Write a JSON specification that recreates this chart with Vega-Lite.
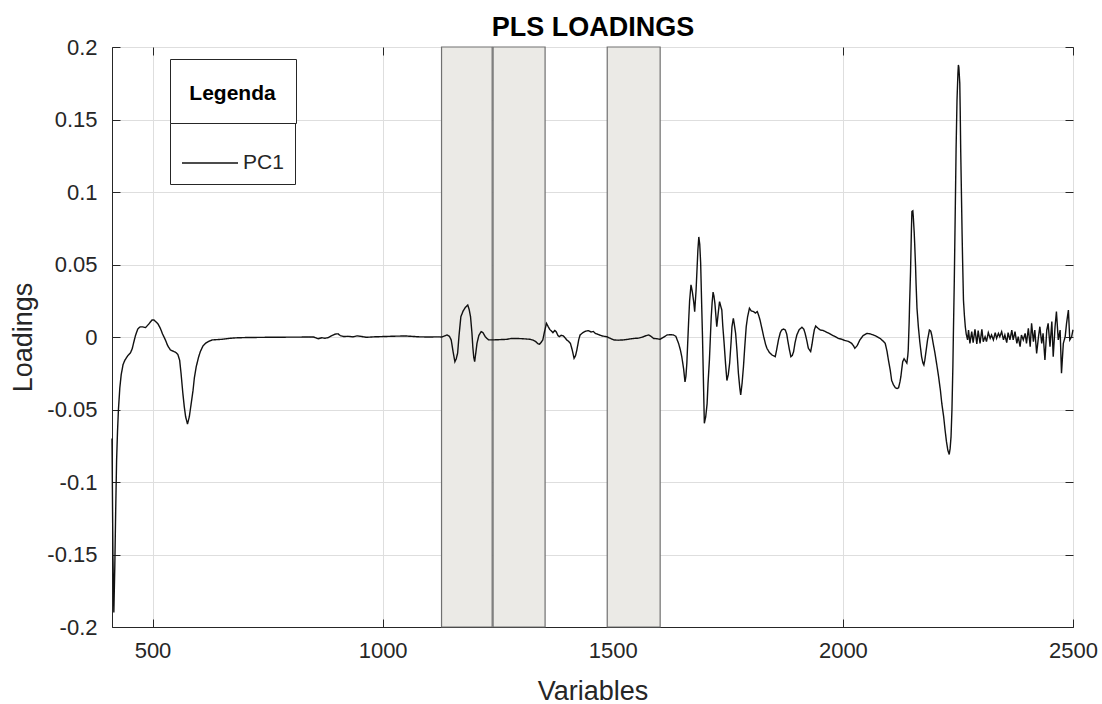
{
  "$schema": "https://vega.github.io/schema/vega-lite/v6.json",
  "width": 961,
  "height": 580,
  "autosize": {"type": "none"},
  "padding": {"left": 112, "top": 47, "right": 29, "bottom": 77},
  "background": "white",
  "config": {
    "view": {"stroke": "#262626", "strokeWidth": 1},
    "axis": {"labelFont": "Liberation Sans", "titleFont": "Liberation Sans", "labelColor": "#262626", "titleColor": "#262626", "tickColor": "#262626", "domainColor": "#262626", "gridColor": "#dedede", "titleFontWeight": "normal"}
  },
  "datasets": {
    "regions": [
      {"start": 1128, "end": 1238, "lo": -0.2, "hi": 0.2},
      {"start": 1240, "end": 1353, "lo": -0.2, "hi": 0.2},
      {"start": 1488, "end": 1603, "lo": -0.2, "hi": 0.2}
    ],
    "loadings": [
      {"x":412,"y":-0.07},{"x":414,"y":-0.15},{"x":416,"y":-0.19},{"x":418,"y":-0.16},{"x":420,"y":-0.12},{"x":422,"y":-0.085},{"x":424,"y":-0.065},{"x":426,"y":-0.05},{"x":429,"y":-0.035},{"x":432,"y":-0.026},{"x":436,"y":-0.019},{"x":440,"y":-0.016},{"x":446,"y":-0.013},{"x":452,"y":-0.011},{"x":456,"y":-0.008},{"x":459,"y":-0.004},{"x":463,"y":0.001},{"x":468,"y":0.0055},{"x":473,"y":0.007},{"x":478,"y":0.007},{"x":485,"y":0.0065},{"x":492,"y":0.009},{"x":499,"y":0.0117},{"x":503,"y":0.0118},{"x":507,"y":0.0106},{"x":512,"y":0.009},{"x":517,"y":0.006},{"x":522,"y":0.002},{"x":528,"y":-0.002},{"x":533,"y":-0.006},{"x":539,"y":-0.009},{"x":545,"y":-0.0098},{"x":550,"y":-0.0105},{"x":555,"y":-0.012},{"x":559,"y":-0.016},{"x":562,"y":-0.025},{"x":566,"y":-0.039},{"x":569,"y":-0.048},{"x":572,"y":-0.055},{"x":576,"y":-0.06},{"x":580,"y":-0.055},{"x":584,"y":-0.046},{"x":588,"y":-0.037},{"x":591,"y":-0.028},{"x":595,"y":-0.0205},{"x":600,"y":-0.014},{"x":604,"y":-0.01},{"x":610,"y":-0.006},{"x":615,"y":-0.0044},{"x":622,"y":-0.003},{"x":630,"y":-0.002},{"x":640,"y":-0.0018},{"x":651,"y":-0.0016},{"x":665,"y":-0.001},{"x":680,"y":-0.0006},{"x":700,"y":-0.0004},{"x":750,"y":-0.0002},{"x":800,"y":-0.0001},{"x":850,"y":0},{"x":860,"y":-0.0012},{"x":868,"y":-0.0005},{"x":875,"y":-0.0009},{"x":882,"y":-0.0004},{"x":890,"y":0.001},{"x":897,"y":0.002},{"x":903,"y":0.0022},{"x":908,"y":0.001},{"x":915,"y":0.0003},{"x":925,"y":0.0005},{"x":935,"y":0.0001},{"x":945,"y":0.0008},{"x":955,"y":0.0003},{"x":965,"y":-0.0002},{"x":980,"y":0.0001},{"x":1000,"y":0.0003},{"x":1030,"y":0.0006},{"x":1050,"y":0.0007},{"x":1065,"y":0.0004},{"x":1080,"y":0.0001},{"x":1100,"y":0},{"x":1120,"y":0.0001},{"x":1129,"y":0},{"x":1135,"y":0.0008},{"x":1140,"y":0.0014},{"x":1145,"y":0.0005},{"x":1149,"y":-0.002},{"x":1153,"y":-0.01},{"x":1157,"y":-0.017},{"x":1160,"y":-0.015},{"x":1163,"y":-0.011},{"x":1166,"y":0.001},{"x":1170,"y":0.014},{"x":1175,"y":0.018},{"x":1180,"y":0.0205},{"x":1185,"y":0.022},{"x":1188,"y":0.019},{"x":1191,"y":0.014},{"x":1194,"y":0.003},{"x":1196,"y":-0.007},{"x":1198,"y":-0.014},{"x":1200,"y":-0.017},{"x":1202,"y":-0.012},{"x":1205,"y":-0.0044},{"x":1209,"y":0.001},{"x":1214,"y":0.0037},{"x":1218,"y":0.003},{"x":1223,"y":0.0002},{"x":1230,"y":-0.002},{"x":1241,"y":-0.002},{"x":1255,"y":-0.0018},{"x":1270,"y":-0.0016},{"x":1280,"y":-0.001},{"x":1292,"y":-0.001},{"x":1305,"y":-0.0012},{"x":1321,"y":-0.0016},{"x":1327,"y":-0.0022},{"x":1332,"y":-0.003},{"x":1337,"y":-0.0045},{"x":1341,"y":-0.005},{"x":1345,"y":-0.0035},{"x":1348,"y":-0.002},{"x":1352,"y":0.004},{"x":1356,"y":0.0094},{"x":1360,"y":0.007},{"x":1363,"y":0.0053},{"x":1367,"y":0.004},{"x":1370,"y":0.003},{"x":1374,"y":0.0045},{"x":1377,"y":0.0037},{"x":1381,"y":0.001},{"x":1384,"y":0.0002},{"x":1388,"y":0.0012},{"x":1393,"y":0.0007},{"x":1397,"y":-0.0008},{"x":1400,"y":-0.002},{"x":1404,"y":-0.003},{"x":1408,"y":-0.0044},{"x":1412,"y":-0.009},{"x":1416,"y":-0.0147},{"x":1419,"y":-0.013},{"x":1422,"y":-0.009},{"x":1426,"y":-0.002},{"x":1429,"y":0.0014},{"x":1435,"y":0.003},{"x":1441,"y":0.004},{"x":1447,"y":0.0044},{"x":1453,"y":0.0035},{"x":1458,"y":0.0038},{"x":1462,"y":0.0025},{"x":1468,"y":0.0018},{"x":1477,"y":0.0007},{"x":1487,"y":0.0002},{"x":1495,"y":-0.001},{"x":1502,"y":-0.002},{"x":1512,"y":-0.0022},{"x":1524,"y":-0.002},{"x":1535,"y":-0.0015},{"x":1545,"y":-0.001},{"x":1555,"y":-0.0008},{"x":1565,"y":0},{"x":1573,"y":0.001},{"x":1578,"y":0.0014},{"x":1583,"y":0.0005},{"x":1589,"y":-0.001},{"x":1596,"y":-0.0012},{"x":1603,"y":-0.0016},{"x":1610,"y":-0.0002},{"x":1618,"y":0.0014},{"x":1625,"y":0.0016},{"x":1632,"y":0.0014},{"x":1637,"y":0.0005},{"x":1643,"y":-0.0044},{"x":1647,"y":-0.009},{"x":1650,"y":-0.0136},{"x":1654,"y":-0.022},{"x":1657,"y":-0.031},{"x":1659,"y":-0.027},{"x":1661,"y":-0.018},{"x":1663,"y":-0.003},{"x":1665,"y":0.0117},{"x":1667,"y":0.025},{"x":1670,"y":0.036},{"x":1673,"y":0.031},{"x":1676,"y":0.024},{"x":1678,"y":0.0175},{"x":1681,"y":0.032},{"x":1683,"y":0.046},{"x":1685,"y":0.06},{"x":1687,"y":0.069},{"x":1689,"y":0.064},{"x":1691,"y":0.051},{"x":1693,"y":0.025},{"x":1695,"y":0.0002},{"x":1697,"y":-0.03},{"x":1699,"y":-0.0595},{"x":1702,"y":-0.055},{"x":1705,"y":-0.046},{"x":1707,"y":-0.032},{"x":1710,"y":-0.016},{"x":1712,"y":-0.001},{"x":1714,"y":0.014},{"x":1716,"y":0.024},{"x":1718,"y":0.031},{"x":1720,"y":0.028},{"x":1722,"y":0.023},{"x":1724,"y":0.015},{"x":1726,"y":0.0071},{"x":1729,"y":0.016},{"x":1732,"y":0.0244},{"x":1734,"y":0.022},{"x":1737,"y":0.0186},{"x":1739,"y":0.008},{"x":1742,"y":-0.0044},{"x":1745,"y":-0.018},{"x":1748,"y":-0.03},{"x":1751,"y":-0.026},{"x":1754,"y":-0.018},{"x":1757,"y":-0.004},{"x":1759,"y":0.0071},{"x":1762,"y":0.0129},{"x":1764,"y":0.009},{"x":1767,"y":0.0025},{"x":1770,"y":-0.01},{"x":1773,"y":-0.025},{"x":1776,"y":-0.035},{"x":1778,"y":-0.04},{"x":1781,"y":-0.032},{"x":1784,"y":-0.0205},{"x":1787,"y":-0.006},{"x":1790,"y":0.0071},{"x":1793,"y":0.014},{"x":1797,"y":0.0198},{"x":1801,"y":0.018},{"x":1806,"y":0.0175},{"x":1810,"y":0.0165},{"x":1814,"y":0.0175},{"x":1817,"y":0.015},{"x":1820,"y":0.0117},{"x":1824,"y":0.006},{"x":1828,"y":0.0002},{"x":1832,"y":-0.005},{"x":1835,"y":-0.0078},{"x":1840,"y":-0.0105},{"x":1846,"y":-0.0124},{"x":1853,"y":-0.0136},{"x":1856,"y":-0.009},{"x":1860,"y":-0.002},{"x":1864,"y":0.003},{"x":1867,"y":0.0048},{"x":1871,"y":0.0055},{"x":1875,"y":0.0048},{"x":1878,"y":0.002},{"x":1880,"y":-0.002},{"x":1884,"y":-0.009},{"x":1887,"y":-0.0136},{"x":1890,"y":-0.0128},{"x":1893,"y":-0.01},{"x":1896,"y":-0.004},{"x":1900,"y":0.0014},{"x":1905,"y":0.005},{"x":1911,"y":0.0067},{"x":1915,"y":0.0055},{"x":1918,"y":0.0025},{"x":1922,"y":-0.003},{"x":1925,"y":-0.0078},{"x":1930,"y":-0.01},{"x":1933,"y":-0.005},{"x":1936,"y":0.0014},{"x":1938,"y":0.005},{"x":1941,"y":0.0076},{"x":1946,"y":0.006},{"x":1951,"y":0.0048},{"x":1957,"y":0.0045},{"x":1962,"y":0.0037},{"x":1970,"y":0.0025},{"x":1976,"y":0.0014},{"x":1983,"y":0.0003},{"x":1990,"y":-0.001},{"x":1997,"y":-0.0015},{"x":2005,"y":-0.0025},{"x":2012,"y":-0.003},{"x":2019,"y":-0.0044},{"x":2023,"y":-0.006},{"x":2026,"y":-0.0078},{"x":2031,"y":-0.006},{"x":2034,"y":-0.004},{"x":2037,"y":-0.002},{"x":2044,"y":0.001},{"x":2052,"y":0.0025},{"x":2059,"y":0.0022},{"x":2066,"y":0.0014},{"x":2073,"y":0.0005},{"x":2081,"y":-0.001},{"x":2088,"y":-0.003},{"x":2092,"y":-0.0044},{"x":2096,"y":-0.01},{"x":2099,"y":-0.016},{"x":2103,"y":-0.023},{"x":2106,"y":-0.03},{"x":2110,"y":-0.033},{"x":2114,"y":-0.035},{"x":2118,"y":-0.0355},{"x":2121,"y":-0.035},{"x":2124,"y":-0.031},{"x":2126,"y":-0.0274},{"x":2128,"y":-0.022},{"x":2130,"y":-0.017},{"x":2133,"y":-0.015},{"x":2135,"y":-0.016},{"x":2137,"y":-0.017},{"x":2139,"y":-0.018},{"x":2141,"y":-0.013},{"x":2142,"y":-0.009},{"x":2144,"y":0.01},{"x":2145,"y":0.0232},{"x":2147,"y":0.045},{"x":2148,"y":0.06},{"x":2149,"y":0.075},{"x":2150,"y":0.0865},{"x":2152,"y":0.087},{"x":2153,"y":0.083},{"x":2155,"y":0.072},{"x":2156,"y":0.0646},{"x":2158,"y":0.048},{"x":2159,"y":0.037},{"x":2161,"y":0.02},{"x":2164,"y":0.0071},{"x":2167,"y":-0.003},{"x":2171,"y":-0.0136},{"x":2174,"y":-0.018},{"x":2176,"y":-0.0193},{"x":2178,"y":-0.016},{"x":2181,"y":-0.009},{"x":2184,"y":-0.002},{"x":2188,"y":0.0048},{"x":2191,"y":0.004},{"x":2193,"y":0.0014},{"x":2196,"y":-0.004},{"x":2200,"y":-0.011},{"x":2204,"y":-0.019},{"x":2208,"y":-0.0274},{"x":2212,"y":-0.037},{"x":2215,"y":-0.046},{"x":2219,"y":-0.055},{"x":2222,"y":-0.064},{"x":2225,"y":-0.072},{"x":2228,"y":-0.078},{"x":2231,"y":-0.081},{"x":2233,"y":-0.077},{"x":2235,"y":-0.0688},{"x":2237,"y":-0.05},{"x":2239,"y":-0.0205},{"x":2240,"y":0},{"x":2242,"y":0.037},{"x":2243,"y":0.06},{"x":2245,"y":0.106},{"x":2246,"y":0.13},{"x":2248,"y":0.1635},{"x":2250,"y":0.182},{"x":2251,"y":0.1876},{"x":2252,"y":0.186},{"x":2254,"y":0.175},{"x":2255,"y":0.155},{"x":2256,"y":0.129},{"x":2257,"y":0.11},{"x":2259,"y":0.0716},{"x":2260,"y":0.055},{"x":2262,"y":0.0255},{"x":2264,"y":0.015},{"x":2266,"y":0.0071},{"x":2268,"y":0.002},{"x":2271,"y":-0.002},
      {"x":2273,"y":0.0048},{"x":2276,"y":-0.0044},{"x":2280,"y":0.0037},{"x":2283,"y":-0.0039},{"x":2287,"y":0.0053},{"x":2291,"y":-0.0048},{"x":2294,"y":0.0044},{"x":2298,"y":-0.0044},{"x":2302,"y":0.0053},{"x":2305,"y":-0.0032},{"x":2309,"y":0.0002},{"x":2312,"y":-0.0032},{"x":2316,"y":0.003},{"x":2320,"y":-0.0009},{"x":2323,"y":0.0014},{"x":2327,"y":-0.002},{"x":2331,"y":0.003},{"x":2334,"y":-0.0009},{"x":2338,"y":0.0025},{"x":2341,"y":0.0002},{"x":2345,"y":0.0037},{"x":2349,"y":-0.002},{"x":2352,"y":0.0014},{"x":2356,"y":-0.0039},{"x":2359,"y":0.003},{"x":2363,"y":-0.002},{"x":2367,"y":0.0048},{"x":2370,"y":-0.002},{"x":2374,"y":0.0037},{"x":2378,"y":-0.0044},{"x":2381,"y":0.0002},{"x":2385,"y":-0.0067},{"x":2388,"y":0.0014},{"x":2392,"y":-0.002},{"x":2396,"y":0.0025},{"x":2399,"y":-0.0044},{"x":2403,"y":0.006},{"x":2407,"y":-0.0067},{"x":2410,"y":0.0094},{"x":2414,"y":-0.0032},{"x":2417,"y":0.0048},{"x":2421,"y":-0.0113},{"x":2425,"y":0.0002},{"x":2428,"y":0.0071},{"x":2432,"y":-0.0044},{"x":2435,"y":0.0025},{"x":2439,"y":-0.0159},{"x":2443,"y":0.0048},{"x":2446,"y":0.0094},{"x":2450,"y":-0.0067},{"x":2454,"y":0.0106},{"x":2457,"y":-0.0136},{"x":2461,"y":0.0071},{"x":2464,"y":0.0175},{"x":2468,"y":-0.002},{"x":2472,"y":0.0048},{"x":2475,"y":-0.025},{"x":2479,"y":-0.0044},{"x":2483,"y":0.0002},{"x":2486,"y":0.0094},{"x":2490,"y":0.0186},{"x":2493,"y":-0.002},{"x":2497,"y":0.0002},{"x":2500,"y":0.005}
    ]
  },
  "layer": [
    {
      "data": {"name": "regions"},
      "mark": {"type": "rect", "fill": "#ebeae6", "stroke": "#707070", "strokeWidth": 1.2},
      "encoding": {
        "x": {"field": "start", "type": "quantitative", "scale": {"domain": [412, 2500], "nice": false, "zero": false},
          "axis": {"orient": "bottom", "values": [500, 1000, 1500, 2000, 2500], "labelExpr": "toString(datum.value)", "title": "Variables", "titleFontSize": 27, "labelFontSize": 22, "tickSize": -8, "labelPadding": 21, "titlePadding": 17, "grid": true, "labelFlush": false}},
        "x2": {"field": "end"},
        "y": {"field": "lo", "type": "quantitative", "scale": {"domain": [-0.2, 0.2], "nice": false, "zero": false},
          "axis": {"orient": "left", "values": [-0.2, -0.15, -0.1, -0.05, 0, 0.05, 0.1, 0.15, 0.2], "labelExpr": "toString(datum.value)", "title": "Loadings", "titleFontSize": 27, "labelFontSize": 22, "tickSize": -8, "labelPadding": 23, "titlePadding": 9, "grid": true, "labelFlush": false}},
        "y2": {"field": "hi"}
      }
    },
    {
      "data": {"name": "loadings"},
      "mark": {"type": "line", "strokeWidth": 1.4},
      "encoding": {
        "x": {"field": "x", "type": "quantitative", "scale": {"domain": [412, 2500], "nice": false, "zero": false},
          "axis": {"orient": "top", "values": [500, 1000, 1500, 2000, 2500], "labels": false, "title": "PLS LOADINGS", "titleFontSize": 27, "titleFontWeight": "bold", "titleColor": "#000000", "titlePadding": 5, "domain": false, "grid": false, "tickSize": -8}},
        "y": {"field": "y", "type": "quantitative", "scale": {"domain": [-0.2, 0.2], "nice": false, "zero": false},
          "axis": {"orient": "right", "values": [-0.2, -0.15, -0.1, -0.05, 0, 0.05, 0.1, 0.15, 0.2], "labels": false, "title": null, "domain": false, "grid": false, "tickSize": -8}},
        "color": {"datum": "PC1", "type": "nominal", "scale": {"range": ["#111111"]},
          "legend": {"title": null, "orient": "none", "legendX": 58, "legendY": 76, "padding": 11, "strokeColor": "#262626", "fillColor": "white", "symbolType": "stroke", "symbolSize": 3136, "symbolStrokeWidth": 1.3, "labelFont": "Liberation Sans", "labelFontSize": 21, "labelColor": "#262626", "labelOffset": 4}},
        "strokeDash": {"datum": "Legenda", "type": "nominal", "scale": {"range": [[1, 0]]},
          "legend": {"title": "Legenda", "orient": "none", "legendX": 58, "legendY": 12, "padding": 19.5, "strokeColor": "#262626", "fillColor": "white", "titleFont": "Liberation Sans", "titleFontSize": 21, "titleFontWeight": "bold", "titleColor": "#000000", "titleAlign": "center", "titleAnchor": "middle", "titleOrient": "bottom", "titlePadding": 1, "labelExpr": "''", "labelFontSize": 2, "symbolSize": 4, "symbolOpacity": 0, "symbolType": "stroke"}}
      }
    }
  ],
  "resolve": {"axis": {"x": "independent", "y": "independent"}}
}
